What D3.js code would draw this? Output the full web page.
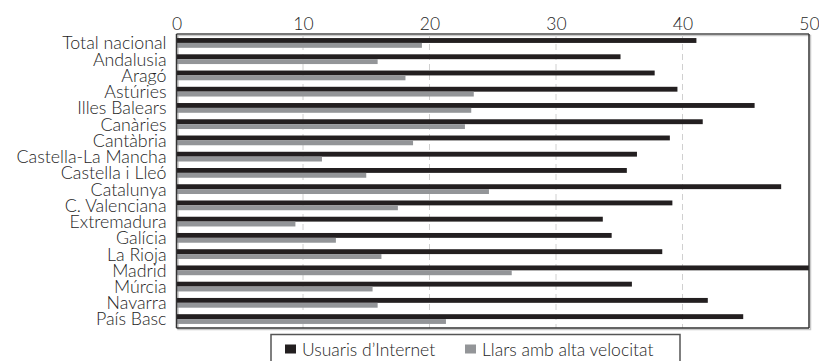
<!DOCTYPE html>
<html>
<head>
<meta charset="utf-8">
<script src="https://cdn.jsdelivr.net/npm/d3@7/dist/d3.min.js"></script>
<style>
  html, body { margin: 0; padding: 0; background: #fff; }
  svg { display: block; }
  text { font-family: Lato, "Open Sans", sans-serif; fill: #1e1e1e; font-weight: 300; }
</style>
</head>
<body>
<svg id="chart" width="819" height="361"></svg>
<script>
// Regions, top to bottom
const regions = [
  "Total nacional", "Andalusia", "Aragó", "Astúries", "Illes Balears",
  "Canàries", "Cantàbria", "Castella-La Mancha", "Castella i Lleó",
  "Catalunya", "C. Valenciana", "Extremadura", "Galícia", "La Rioja",
  "Madrid", "Múrcia", "Navarra", "País Basc"
];

// Internet users (%)
const internetUsers = [
  41.1, 35.1, 37.8, 39.6, 45.7, 41.6, 39.0, 36.4, 35.6,
  47.8, 39.2, 33.7, 34.4, 38.4, 50.0, 36.0, 42.0, 44.8
];

// Households with broadband (%)
const broadbandHomes = [
  19.4, 15.9, 18.1, 23.5, 23.3, 22.8, 18.7, 11.5, 15.0,
  24.7, 17.5, 9.4, 12.6, 16.2, 26.5, 15.5, 15.9, 21.3
];

const seriesNames = ["Usuaris d’Internet", "Llars amb alta velocitat"];
const seriesColors = ["#231f20", "#939598"];
const xTicks = [0, 10, 20, 30, 40, 50];

const FONT = "Lato, 'Open Sans', sans-serif";
const TEXT_COLOR = "#1e1e1e";
const margin = { left: 176.5, top: 34 };
const plotW = 809 - margin.left;
const plotH = 328 - margin.top;

const svg = d3.select("#chart");
const g = svg.append("g").attr("transform", `translate(${margin.left},${margin.top})`);

const x = d3.scaleLinear().domain([0, 50]).range([0, plotW]);
const y = d3.scaleBand().domain(regions).range([0, plotH]).paddingInner(0.4).paddingOuter(0.25);
const sub = d3.scaleBand().domain([0, 1]).range([0, y.bandwidth()]);

// panel shadow
g.append("rect")
  .attr("x", 1.5).attr("y", 1.5)
  .attr("width", plotW).attr("height", plotH)
  .attr("fill", "none").attr("stroke", "#c8c8c8").attr("stroke-width", 1.5);

// dashed grid
g.append("g").selectAll("line")
  .data(xTicks.filter(t => t > 0 && t < 50))
  .join("line")
  .attr("x1", d => x(d)).attr("x2", d => x(d))
  .attr("y1", 0).attr("y2", plotH)
  .attr("stroke", "#d0d0d0").attr("stroke-width", 1)
  .attr("stroke-dasharray", "6,4");

// bars
const rows = g.append("g").selectAll("g")
  .data(regions.map((r, i) => ({ r, vals: [internetUsers[i], broadbandHomes[i]] })))
  .join("g")
  .attr("transform", d => `translate(0,${y(d.r)})`);

rows.selectAll("rect")
  .data(d => d.vals.map((v, k) => ({ v, k })))
  .join("rect")
  .attr("x", 0)
  .attr("y", d => sub(d.k))
  .attr("width", d => x(d.v))
  .attr("height", sub.bandwidth())
  .attr("fill", d => seriesColors[d.k]);

// panel border
g.append("line").attr("x1", 0).attr("x2", plotW).attr("y1", 0).attr("y2", 0)
  .attr("stroke", "#777").attr("stroke-width", 2);
g.append("line").attr("x1", plotW).attr("x2", plotW).attr("y1", 0).attr("y2", plotH)
  .attr("stroke", "#333").attr("stroke-width", 1.5);
g.append("line").attr("x1", 0).attr("x2", plotW).attr("y1", plotH).attr("y2", plotH)
  .attr("stroke", "#333").attr("stroke-width", 1.5);
g.append("line").attr("x1", 0).attr("x2", 0).attr("y1", 0).attr("y2", plotH)
  .attr("stroke", "#333").attr("stroke-width", 1.5);

// top axis
const xAxis = d3.axisTop(x).tickValues(xTicks).tickSize(0).tickPadding(4);
g.append("g").call(xAxis)
  .call(a => a.select(".domain").remove())
  .call(a => a.selectAll("text").attr("font-size", 17.5).attr("fill", TEXT_COLOR)
    .style("font-family", FONT));

// category axis
const yAxis = d3.axisLeft(y).tickSize(0).tickPadding(10);
g.append("g").call(yAxis)
  .call(a => a.select(".domain").remove())
  .call(a => a.selectAll("text").attr("font-size", 17.8).attr("fill", TEXT_COLOR)
    .attr("dy", "0.36em")
    .style("font-family", FONT));

// legend
const leg = svg.append("g");
leg.append("rect")
  .attr("x", 271).attr("y", 334.5).attr("width", 409).attr("height", 40)
  .attr("fill", "#fff").attr("stroke", "#555").attr("stroke-width", 1.5);
const legX = [285, 465];
seriesNames.forEach((name, k) => {
  leg.append("rect")
    .attr("x", legX[k]).attr("y", 344.5).attr("width", 11).attr("height", 9)
    .attr("fill", seriesColors[k]);
  leg.append("text")
    .attr("x", legX[k] + 17).attr("y", 355.5)
    .attr("font-size", 17.5)
    .text(name);
});
</script>
</body>
</html>
